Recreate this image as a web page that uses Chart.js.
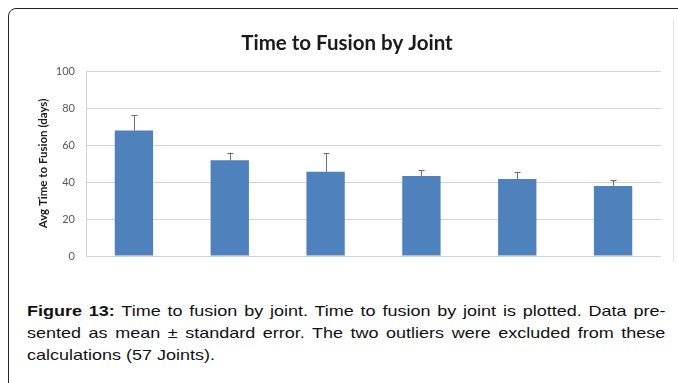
<!DOCTYPE html>
<html>
<head>
<meta charset="utf-8">
<script src="https://cdn.jsdelivr.net/npm/chart.js@4.4.1/dist/chart.umd.min.js"></script>
<style>
  html, body { margin: 0; padding: 0; background: #fff; width: 678px; height: 383px; overflow: hidden; }
  .frame {
    position: absolute; left: 8px; top: 8px; width: 720px; height: 420px;
    border: 1.5px solid #222; border-radius: 8px; box-sizing: border-box;
  }
  .chartWrap { position: absolute; left: 20px; top: 0; width: 653px; height: 285px; }
  .imgEdge { position: absolute; left: 673px; top: 20px; width: 1px; height: 242px; background: #e4e4e4; }
  .caption {
    position: absolute; left: 27px; top: 300px; width: 532px;
    transform: scaleX(1.2); transform-origin: 0 0;
    font-family: "Liberation Sans", Arial, sans-serif; font-size: 15px; line-height: 22px; color: #111;
  }
  .caption div { text-align: justify; text-align-last: justify; white-space: nowrap; }
  .caption div.last { text-align-last: left; }
</style>
</head>
<body>
<div class="frame"></div>
<div class="imgEdge"></div>
<div class="chartWrap"><canvas id="fusionChart"></canvas></div>
<div class="caption">
  <div><b>Figure 13:</b> Time to fusion by joint. Time to fusion by joint is plotted. Data pre-</div>
  <div>sented as mean ± standard error. The two outliers were excluded from these</div>
  <div class="last">calculations (57 Joints).</div>
</div>
<script>
// joints are unlabelled in the source figure
const joints = ["", "", "", "", "", ""];
const meanDays = [67.8, 51.7, 45.5, 43.3, 41.6, 37.9];
const stdErr = [8.4, 4.2, 10.0, 3.1, 3.7, 3.1];
const yTicks = [0, 20, 40, 60, 80, 100];

const errorBars = {
  id: "errorBars",
  afterDatasetsDraw(chart) {
    const ctx = chart.ctx;
    const y = chart.scales.y;
    const meta = chart.getDatasetMeta(0);
    ctx.save();
    ctx.strokeStyle = "#6b6f78";
    ctx.lineWidth = 1;
    meta.data.forEach((bar, i) => {
      const x = Math.round(bar.x) + 0.5;
      const top = y.getPixelForValue(meanDays[i] + stdErr[i]);
      const base = y.getPixelForValue(meanDays[i]);
      ctx.beginPath();
      ctx.moveTo(x, base);
      ctx.lineTo(x, top);
      ctx.moveTo(x - 3, Math.round(top) + 0.5);
      ctx.lineTo(x + 3, Math.round(top) + 0.5);
      ctx.stroke();
    });
    ctx.restore();
  },
};

new Chart(document.getElementById("fusionChart"), {
  type: "bar",
  data: {
    labels: joints,
    datasets: [
      {
        data: meanDays,
        backgroundColor: "#4f81bd",
        borderWidth: 0,
        barPercentage: 0.4,
        categoryPercentage: 1.0,
      },
    ],
  },
  options: {
    responsive: true,
    maintainAspectRatio: false,
    animation: false,
    layout: { padding: { left: 13, right: 12, top: 0, bottom: 29 } },
    plugins: {
      legend: { display: false },
      tooltip: { enabled: false },
      title: {
        display: true,
        text: "Time to Fusion by Joint",
        color: "#1a1a1a",
        font: { family: "Lato", size: 20.5, weight: "bold", lineHeight: 1.2 },
        padding: { top: 30.7, bottom: 15.7 },
      },
    },
    scales: {
      x: { display: false },
      y: {
        min: 0,
        max: 100,
        afterBuildTicks: (scale) => {
          scale.ticks = yTicks.map((v) => ({ value: v }));
        },
        afterFit: (scale) => {
          scale.width = 53;
        },
        grid: { color: "#d4d4d4", lineWidth: 1, drawTicks: false },
        border: { display: true, color: "#d4d4d4" },
        ticks: {
          padding: 11,
          color: "#595959",
          font: { family: "Lato", size: 11 },
        },
        title: {
          display: true,
          text: "Avg Time to Fusion (days)",
          color: "#1a1a1a",
          font: { family: "Lato", size: 11.5, weight: "bold" },
          padding: { top: 3, bottom: 0 },
        },
      },
    },
  },
  plugins: [errorBars],
});
</script>
</body>
</html>
